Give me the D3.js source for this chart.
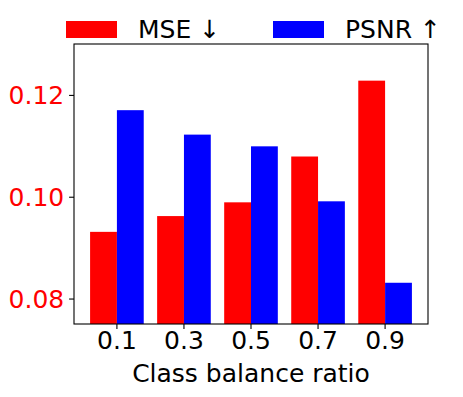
<!DOCTYPE html>
<html>
<head>
<meta charset="utf-8">
<script src="https://cdn.jsdelivr.net/npm/d3@7"></script>
<style>
  html, body { margin: 0; padding: 0; background: #fff; }
  svg { display: block; }
  svg text { font-family: "DejaVu Sans", sans-serif; }
</style>
</head>
<body>
<div id="chart"></div>
<script>
// values
const ratios = ["0.1", "0.3", "0.5", "0.7", "0.9"];
const mseValues = [0.0931, 0.0962, 0.0989, 0.1079, 0.1228];
const psnrValues = [0.1170, 0.1122, 0.1099, 0.0991, 0.0831];
const seriesNames = ["MSE ↓", "PSNR ↑"];
const seriesColors = ["#ff0000", "#0000ff"];
const yTicks = [0.08, 0.10, 0.12];
const yDomain = [0.075, 0.13];

const W = 463, H = 397;
const margin = { top: 44, right: 35, bottom: 73, left: 74 };
const width = W - margin.left - margin.right;
const height = H - margin.top - margin.bottom;

const rows = ratios.map((r, i) => ({ ratio: r, values: [mseValues[i], psnrValues[i]] }));

const svg = d3.select("#chart").append("svg")
  .attr("width", W)
  .attr("height", H);

const g = svg.append("g")
  .attr("transform", `translate(${margin.left},${margin.top})`);

const x = d3.scaleBand().domain(ratios).range([0, width])
  .paddingInner(0.2).paddingOuter(0.24);
const xSub = d3.scaleBand().domain(seriesNames).range([0, x.bandwidth()]);
const y = d3.scaleLinear().domain(yDomain).range([height, 0]);

// bars
const groups = g.selectAll(".grp")
  .data(rows).enter().append("g")
  .attr("class", "grp")
  .attr("transform", d => `translate(${x(d.ratio)},0)`);

groups.selectAll("rect")
  .data(d => d.values.map((v, j) => ({ name: seriesNames[j], value: v, color: seriesColors[j] })))
  .enter().append("rect")
  .attr("x", d => xSub(d.name))
  .attr("y", d => y(d.value))
  .attr("width", xSub.bandwidth())
  .attr("height", d => height - y(d.value))
  .attr("fill", d => d.color);

// axes
const xAxis = g.append("g")
  .attr("transform", `translate(0,${height})`)
  .call(d3.axisBottom(x).tickSize(4.9).tickPadding(4.9));
xAxis.select(".domain").remove();
xAxis.selectAll("line").attr("stroke", "#000").attr("stroke-width", 1.1);
xAxis.selectAll("text")
  .attr("fill", "#000")
  .style("font-size", "25px")
  .attr("dy", "0.71em")
  .attr("y", 7.6);

const yAxis = g.append("g")
  .call(d3.axisLeft(y).tickValues(yTicks).tickFormat(d3.format(".2f")).tickSize(4.9).tickPadding(4.9));
yAxis.select(".domain").remove();
yAxis.selectAll("line").attr("stroke", "#000").attr("stroke-width", 1.1);
yAxis.selectAll("text")
  .attr("fill", "#ff0000")
  .style("font-size", "25px")
  .attr("dy", "0.36em");

// frame
g.append("rect")
  .attr("x", 0).attr("y", 0)
  .attr("width", width).attr("height", height)
  .attr("fill", "none")
  .attr("stroke", "#000")
  .attr("stroke-width", 1.1);

// x label
g.append("text")
  .attr("x", width / 2)
  .attr("y", height + 58)
  .attr("text-anchor", "middle")
  .style("font-size", "25px")
  .attr("fill", "#000")
  .text("Class balance ratio");

// legend
const legendX = [66, 273];
const legend = svg.selectAll(".leg")
  .data(seriesNames).enter().append("g")
  .attr("class", "leg")
  .attr("transform", (d, i) => `translate(${legendX[i]},21)`);
legend.append("rect")
  .attr("width", 51).attr("height", 17)
  .attr("fill", (d, i) => seriesColors[i]);
legend.append("text")
  .attr("x", 72)
  .attr("y", 17)
  .style("font-size", "25px")
  .attr("fill", "#000")
  .text(d => d);
</script>
</body>
</html>
